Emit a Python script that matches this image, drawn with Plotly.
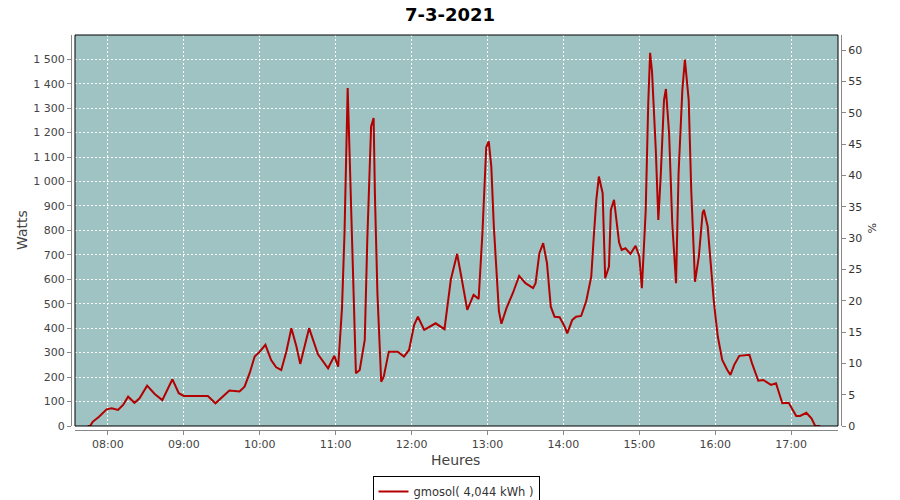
import plotly.graph_objects as go

day = "2021-03-07"
times = ["07:44","07:46","07:48","07:53","07:59","08:03","08:08","08:12","08:16","08:21","08:25","08:31","08:37","08:43","08:51","08:56","09:00","09:19","09:25","09:31","09:36","09:44","09:48","09:52","09:56","10:00","10:04:30","10:09","10:13","10:17","10:21","10:25","10:29","10:32","10:39","10:46","10:54","10:59","11:02","11:05","11:07","11:09:30","11:12","11:16","11:19","11:23","11:25","11:28","11:30","11:31","11:33","11:36","11:38","11:42","11:49","11:54","11:58","12:02","12:05","12:10","12:19","12:26","12:31","12:36","12:40","12:44","12:49","12:53","12:56","12:59","13:01","13:03","13:05","13:09","13:11","13:15","13:20","13:25","13:30","13:36","13:38","13:41","13:44","13:47","13:50","13:53","13:57","14:01","14:03","14:07","14:10","14:14","14:18","14:22","14:24","14:26","14:28","14:31","14:33","14:36","14:37:30","14:40","14:44","14:46","14:49","14:53","14:57","15:00","15:02","15:05","15:07","15:08:30","15:10","15:13","15:15","15:17","15:19:30","15:21","15:23:30","15:26","15:29","15:31","15:34","15:36","15:39","15:41","15:44","15:47","15:50","15:51","15:54","15:56","15:59","16:02","16:05:30","16:09:30","16:12","16:15","16:19","16:27","16:29","16:34","16:38","16:44","16:48","16:53","16:58","17:04","17:07","17:12","17:16","17:19","17:23"]
watts = [0,0,17,38,68,72,66,86,120,95,113,165,131,106,191,134,123,123,93,123,145,141,161,216,284,304,332,270,240,229,304,400,325,254,400,293,236,287,243,482,789,1382,952,216,229,352,761,1225,1259,952,543,181,202,304,304,284,311,413,447,393,420,396,598,704,591,475,536,520,790,1140,1164,1061,816,470,418,482,543,614,584,564,584,707,748,666,488,447,445,406,379,434,447,450,510,611,775,925,1020,952,604,652,884,925,750,720,727,704,737,693,564,877,1314,1526,1450,1130,843,1034,1334,1378,1198,830,584,1034,1375,1498,1334,966,590,693,871,884,816,693,502,366,270,229,209,250,287,291,257,185,188,168,175,93,95,41,41,54,31,0,0]

series_name = "gmosol( 4,044 kWh )"
title_text = "7-3-2021"
x_range = ["07:34", "17:37"]
watts_range = [0, 1599]
pct_range = [0, 62.4]

def ts(t):
    return f"{day} {t}" if t.count(":") == 2 else f"{day} {t}:00"

x = [ts(t) for t in times]

FONT = "DejaVu Sans"
BG = "#9ec3c2"
LINE = "#b30000"
AXIS_GRAY = "#888888"

fig = go.Figure()
fig.add_trace(go.Scatter(x=x, y=watts, mode="lines", name=series_name,
                         line=dict(color=LINE, width=2), yaxis="y"))
fig.add_trace(go.Scatter(x=[x[0]], y=[None], mode="lines", yaxis="y2",
                         showlegend=False, hoverinfo="skip"))

W, H = 900, 500
ml, mr, mt, mb = 71, 59, 35, 70
pw = W - ml - mr
ph = H - mt - mb
xd0 = 4 / pw
xd1 = (838 - ml) / pw
yd0 = 4 / ph

grid = dict(showgrid=True, gridcolor="white", gridwidth=1, griddash="2px,2px")

fig.update_layout(
    width=W, height=H,
    margin=dict(l=ml, r=mr, t=mt, b=mb, autoexpand=False),
    paper_bgcolor="white", plot_bgcolor=BG,
    separators=", ",
    font=dict(family=FONT, size=11, color="#444444"),
    title=dict(text=f"<b>{title_text}</b>", x=0.5, xanchor="center", y=1 - 15 / H,
               yanchor="middle", font=dict(family=FONT, size=18, color="black")),
    xaxis=dict(type="date", domain=[xd0, xd1], anchor="free", position=0,
               range=[ts(x_range[0]), ts(x_range[1])], tickformat="%H:%M",
               dtick=3600000, tick0=ts("08:00"), showline=True, linecolor=AXIS_GRAY,
               ticks="outside", ticklen=4, tickcolor=AXIS_GRAY, zeroline=False,
               tickfont=dict(size=11, color="#444444"), **grid),
    yaxis=dict(domain=[yd0, 1], anchor="free", position=0, range=watts_range,
               dtick=100, tickformat=",d", showline=True, linecolor=AXIS_GRAY,
               ticks="outside", ticklen=4, tickcolor=AXIS_GRAY, zeroline=False,
               tickfont=dict(size=11, color="#444444"), **grid),
    yaxis2=dict(domain=[yd0, 1], anchor="free", position=1, overlaying="y", side="right",
                range=pct_range, dtick=5, showgrid=False, zeroline=False, showline=True,
                linecolor=AXIS_GRAY, ticks="outside", ticklen=4, tickcolor=AXIS_GRAY,
                tickfont=dict(size=11, color="#333333")),
    showlegend=True,
    legend=dict(orientation="h", x=0.5, xanchor="center", y=(430 - 476) / ph,
                yanchor="top", bordercolor="black", borderwidth=1, bgcolor="white",
                font=dict(family=FONT, size=11.5, color="#333333"),
                itemwidth=30, tracegroupgap=0),
    shapes=[dict(type="rect", xref="paper", yref="paper", x0=xd0, x1=xd1, y0=yd0, y1=1,
                 line=dict(color="black", width=1), fillcolor="rgba(0,0,0,0)", layer="above")],
    annotations=[
        dict(text="Watts", xref="paper", yref="paper", x=(22 - ml) / pw, y=(430 - 230) / ph,
             textangle=-90, showarrow=False, xanchor="center", yanchor="middle",
             font=dict(family=FONT, size=14, color="#444444")),
        dict(text="%", xref="paper", yref="paper", x=(872 - ml) / pw, y=(430 - 228) / ph,
             textangle=90, showarrow=False, xanchor="center", yanchor="middle",
             font=dict(family=FONT, size=11, color="#333333")),
        dict(text="Heures", xref="paper", yref="paper", x=(455 - ml) / pw, y=(430 - 460) / ph,
             showarrow=False, xanchor="center", yanchor="middle",
             font=dict(family=FONT, size=14, color="#444444")),
    ],
)

fig.write_html("out.html", config={"displayModeBar": False},
               post_script="document.body.style.margin='0';")
